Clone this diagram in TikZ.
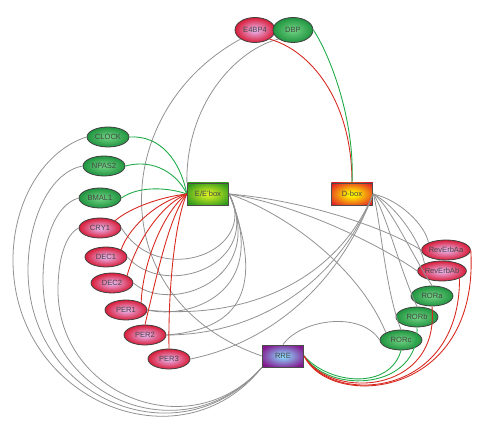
\documentclass[tikz,border=0pt]{standalone}
\usepackage{fontspec}
\setmainfont{Liberation Sans}
\usepackage{tikz}
\usetikzlibrary{shapes.geometric}
\definecolor{linkgray}{RGB}{145,145,145}
\definecolor{actgreen}{RGB}{30,170,70}
\definecolor{repred}{RGB}{215,40,30}
\definecolor{labelgray}{RGB}{70,70,70}
\definecolor{redrim}{RGB}{215,15,40}
\definecolor{redcore}{RGB}{232,170,225}
\definecolor{greenrim}{RGB}{15,135,50}
\definecolor{greencore}{RGB}{105,205,125}
\definecolor{eboxrim}{RGB}{50,155,30}
\definecolor{eboxcore}{RGB}{215,240,35}
\definecolor{dboxrim}{RGB}{225,20,40}
\definecolor{dboxcore}{RGB}{255,240,0}
\definecolor{rrerim}{RGB}{130,20,140}
\definecolor{rrecore}{RGB}{140,210,250}
\pgfdeclareradialshading{redgeneshade}{\pgfpoint{0bp}{0bp}}{color(0bp)=(redcore); color(3bp)=(redcore); color(27bp)=(redrim); color(50bp)=(redrim)}
\pgfdeclareradialshading{greengeneshade}{\pgfpoint{0bp}{0bp}}{color(0bp)=(greencore); color(3bp)=(greencore); color(30bp)=(greenrim); color(50bp)=(greenrim)}
\pgfdeclareradialshading{eboxshade}{\pgfpoint{0bp}{0bp}}{color(0bp)=(eboxcore); color(3bp)=(eboxcore); color(30bp)=(eboxrim); color(70bp)=(eboxrim)}
\pgfdeclareradialshading{dboxshade}{\pgfpoint{0bp}{0bp}}{color(0bp)=(dboxcore); color(5bp)=(dboxcore); color(34bp)=(dboxrim); color(70bp)=(dboxrim)}
\pgfdeclareradialshading{rreshade}{\pgfpoint{0bp}{0bp}}{color(0bp)=(rrecore); color(3bp)=(rrecore); color(30bp)=(rrerim); color(70bp)=(rrerim)}

\begin{document}
\begin{tikzpicture}[x=0.02cm, y=-0.02cm,
  every node/.style={font=\fontsize{4.3}{5}\selectfont, text=labelgray},
  gene/.style={ellipse, draw=black!75, line width=0.45pt, minimum width=0.84cm, minimum height=0.4cm, inner sep=0pt},
  redgene/.style={gene, shading=redgeneshade},
  greengene/.style={gene, shading=greengeneshade},
  topgene/.style={minimum width=0.8cm, minimum height=0.5cm},
  elembox/.style={rectangle, draw=black!70, line width=0.45pt, minimum width=0.83cm, minimum height=0.44cm, inner sep=0pt},
  target/.style={draw=linkgray, line width=0.45pt},
  act/.style={draw=actgreen, line width=0.5pt},
  rep/.style={draw=repred, line width=0.5pt}]
  \useasboundingbox (0,0) rectangle (500,438);

  % genes
  \node[redgene, topgene] (e4bp4) at (255,30) {E4BP4};
  \node[greengene, topgene] (dbp) at (293,30) {DBP};
  \node[greengene] (clock) at (108,137) {CLOCK};
  \node[greengene] (npas2) at (104,166) {NPAS2};
  \node[greengene] (bmal1) at (100,198) {BMAL1};
  \node[redgene] (cry1) at (100,228) {CRY1};
  \node[redgene] (dec1) at (106,257) {DEC1};
  \node[redgene] (dec2) at (112,283) {DEC2};
  \node[redgene] (per1) at (126,310) {PER1};
  \node[redgene] (per2) at (145,335) {PER2};
  \node[redgene] (per3) at (169,359) {PER3};
  \node[redgene] (reva) at (446,250) {RevErbAa};
  \node[redgene] (revb) at (442,271) {RevErbAb};
  \node[greengene] (rora) at (432,296) {RORa};
  \node[greengene] (rorb) at (417,317) {RORb};
  \node[greengene] (rorc) at (401,340) {RORc};

  % elements
  \node[elembox, shading=eboxshade] (ebox) at (208,194) {E/E'box};
  \node[elembox, shading=dboxshade] (dbox) at (352,194) {D-box};
  \node[elembox, shading=rreshade] (rre) at (283,356) {RRE};

  % element -> gene (gray)
  \draw[target] (e4bp4.south west) .. controls (110,110) and (100,300) .. (rre.west);
  \draw[target] (dbp.south west) .. controls (240,48) and (186,100) .. (ebox.north west);
  \draw[target] (clock.west) .. controls (45,150) and (13,200) .. (13,260) .. controls (13,400) and (180,470) .. (rre.south west);
  \draw[target] (npas2.west) .. controls (50,172) and (28,220) .. (28,270) .. controls (28,400) and (180,462) .. (rre.south west);
  \draw[target] (bmal1.west) .. controls (55,205) and (43,240) .. (43,280) .. controls (43,400) and (185,455) .. (rre.south west);
  \draw[target] (cry1.west) .. controls (65,235) and (58,260) .. (58,290) .. controls (58,395) and (190,448) .. (rre.south west);
  \draw[target] (ebox.east) .. controls (260,250) and (160,290) .. (cry1.east);
  \draw[target] (ebox.east) .. controls (265,265) and (165,300) .. (dec1.east);
  \draw[target] (ebox.east) .. controls (268,280) and (170,315) .. (dec2.east);
  \draw[target] (ebox.east) .. controls (272,292) and (190,320) .. (per1.east);
  \draw[target] (ebox.east) .. controls (270,300) and (230,330) .. (per2.east);
  \draw[target] (ebox.east) .. controls (300,200) and (380,225) .. (reva.west);
  \draw[target] (ebox.east) .. controls (300,205) and (380,245) .. (revb.west);
  \draw[target] (ebox.east) .. controls (290,215) and (360,270) .. (rorc.north west);
  \draw[target] (dbox.east) .. controls (335,285) and (240,320) .. (per1.east);
  \draw[target] (dbox.east) .. controls (335,290) and (250,335) .. (per2.east);
  \draw[target] (dbox.east) .. controls (335,295) and (260,345) .. (per3.east);
  \draw[target] (dbox.east) .. controls (400,200) and (425,225) .. (reva.north west);
  \draw[target] (dbox.east) .. controls (395,205) and (420,240) .. (revb.north west);
  \draw[target] (dbox.east) .. controls (390,205) and (412,255) .. (rora.north);
  \draw[target] (dbox.east) .. controls (385,210) and (400,270) .. (rorb.north);
  \draw[target] (dbox.east) .. controls (380,215) and (385,290) .. (rorc.north);
  \draw[target] (rre.north) .. controls (300,320) and (360,310) .. (rorc.west);

  % activators and repressors
  \draw[act] (clock.east) .. controls (160,135) and (180,160) .. (ebox.west);
  \draw[act] (npas2.east) .. controls (155,158) and (178,175) .. (ebox.west);
  \draw[act] (bmal1.east) .. controls (140,185) and (170,188) .. (ebox.west);
  \draw[rep] (ebox.west) .. controls (160,197) and (130,208) .. (cry1.north east);
  \draw[rep] (ebox.west) .. controls (160,200) and (130,225) .. (dec1.north east);
  \draw[rep] (ebox.west) .. controls (160,205) and (135,245) .. (dec2.north east);
  \draw[rep] (ebox.west) .. controls (165,210) and (143,260) .. (per1.north east);
  \draw[rep] (ebox.west) .. controls (170,215) and (158,270) .. (per2.north);
  \draw[rep] (ebox.west) .. controls (175,220) and (168,290) .. (per3.north);
  \draw[rep] (e4bp4.south east) .. controls (310,50) and (352,100) .. (dbox.north);
  \draw[act] (dbp.east) .. controls (330,55) and (355,120) .. (dbox.north);
  \draw[act] (rre.east) .. controls (330,385) and (390,390) .. (rorc.south);
  \draw[act] (rre.east) .. controls (330,395) and (420,390) .. (rorb.south);
  \draw[rep] (rre.east) .. controls (330,400) and (440,395) .. (rora.south);
  \draw[rep] (rre.east) .. controls (330,405) and (460,400) .. (revb.south east);
  \draw[rep] (rre.east) .. controls (330,410) and (480,400) .. (reva.east);
\end{tikzpicture}
\end{document}
